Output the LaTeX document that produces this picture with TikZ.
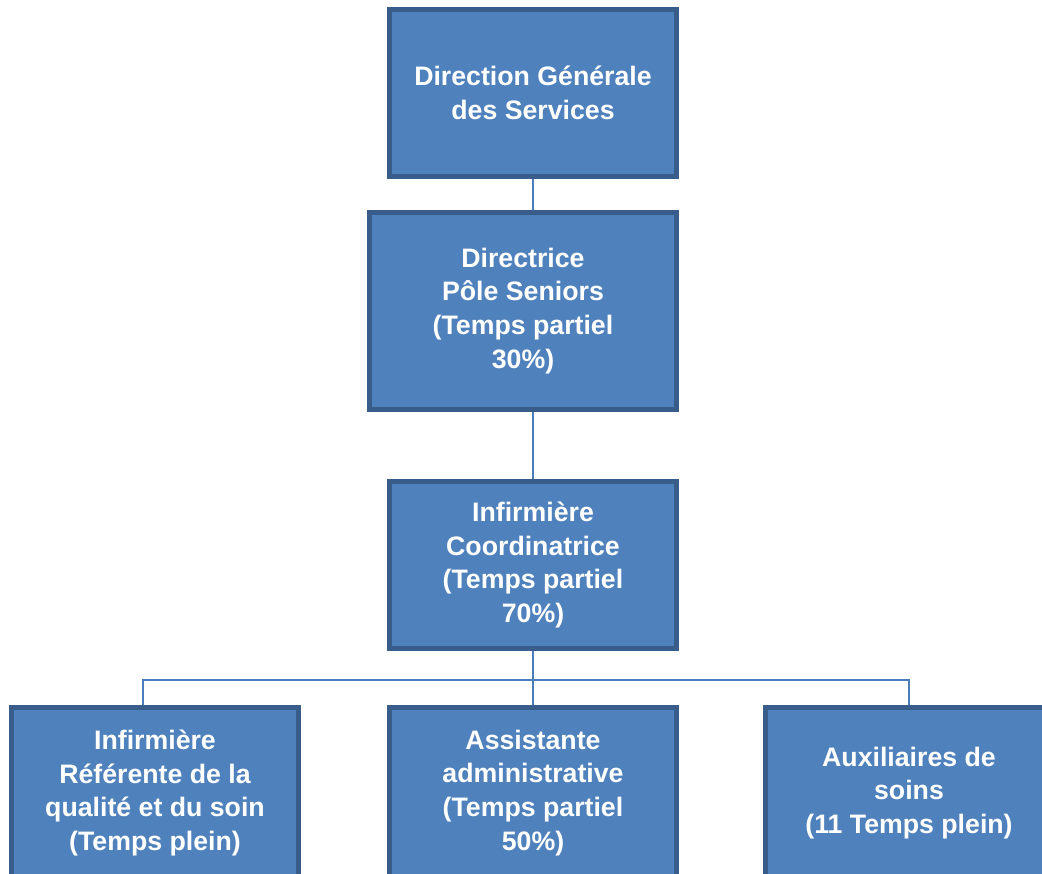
\documentclass[tikz,border=0pt]{standalone}
\usepackage{fontspec}
\setmainfont{Liberation Sans}
\definecolor{boxfill}{HTML}{4F81BD}
\definecolor{boxedge}{HTML}{385D8A}
\definecolor{linkcol}{HTML}{4A7EBB}
\tikzset{
  orgbox/.style={draw=boxedge,fill=boxfill,line width=0.1cm,text=white,
    font=\fontsize{15.2}{19.3}\selectfont\bfseries,align=center,
    inner sep=0pt,minimum width=5.74cm,minimum height=3.34cm},
  link/.style={draw=linkcol,line width=0.04cm}
}
\begin{document}
\begin{tikzpicture}[x=0.02cm,y=-0.02cm]
  \clip (0,0) rectangle (1042,873);
  \useasboundingbox (0,0) rectangle (1042,873);

  % Direction, directrice and coordination.
  \node[orgbox] (dgs) at (533,93) {Direction Générale\\des Services};
  \node[orgbox,minimum width=6.14cm,minimum height=3.94cm] (dir) at (523,311)
    {Directrice\\Pôle Seniors\\(Temps partiel\\30\%)};
  \node[orgbox] (idec) at (533,565)
    {Infirmière\\Coordinatrice\\(Temps partiel\\70\%)};

  % Bottom row of staff, cut off by the page edge.
  \node[orgbox,minimum width=5.76cm,minimum height=3.44cm] (ref) at (155,793)
    {Infirmière\\Référente de la\\qualité et du soin\\(Temps plein)};
  \node[orgbox,minimum height=3.44cm] (asst) at (533,793)
    {Assistante\\administrative\\(Temps partiel\\50\%)};
  \node[orgbox,minimum height=3.44cm] (aux) at (909,793)
    {Auxiliaires de\\soins\\(11 Temps plein)};

  % Connectors.
  \coordinate (bar) at (535,680);
  \coordinate (refin) at ([xshift=-0.24cm]ref.north);
  \draw[link] (dgs.south) -- (dgs.south |- dir.north);
  \draw[link] (dgs.south |- dir.south) -- (dgs.south |- idec.north);
  \draw[link] (idec.south) -- (asst.north);
  \draw[link] (refin) |- (bar) -| (aux.north);
\end{tikzpicture}
\end{document}
